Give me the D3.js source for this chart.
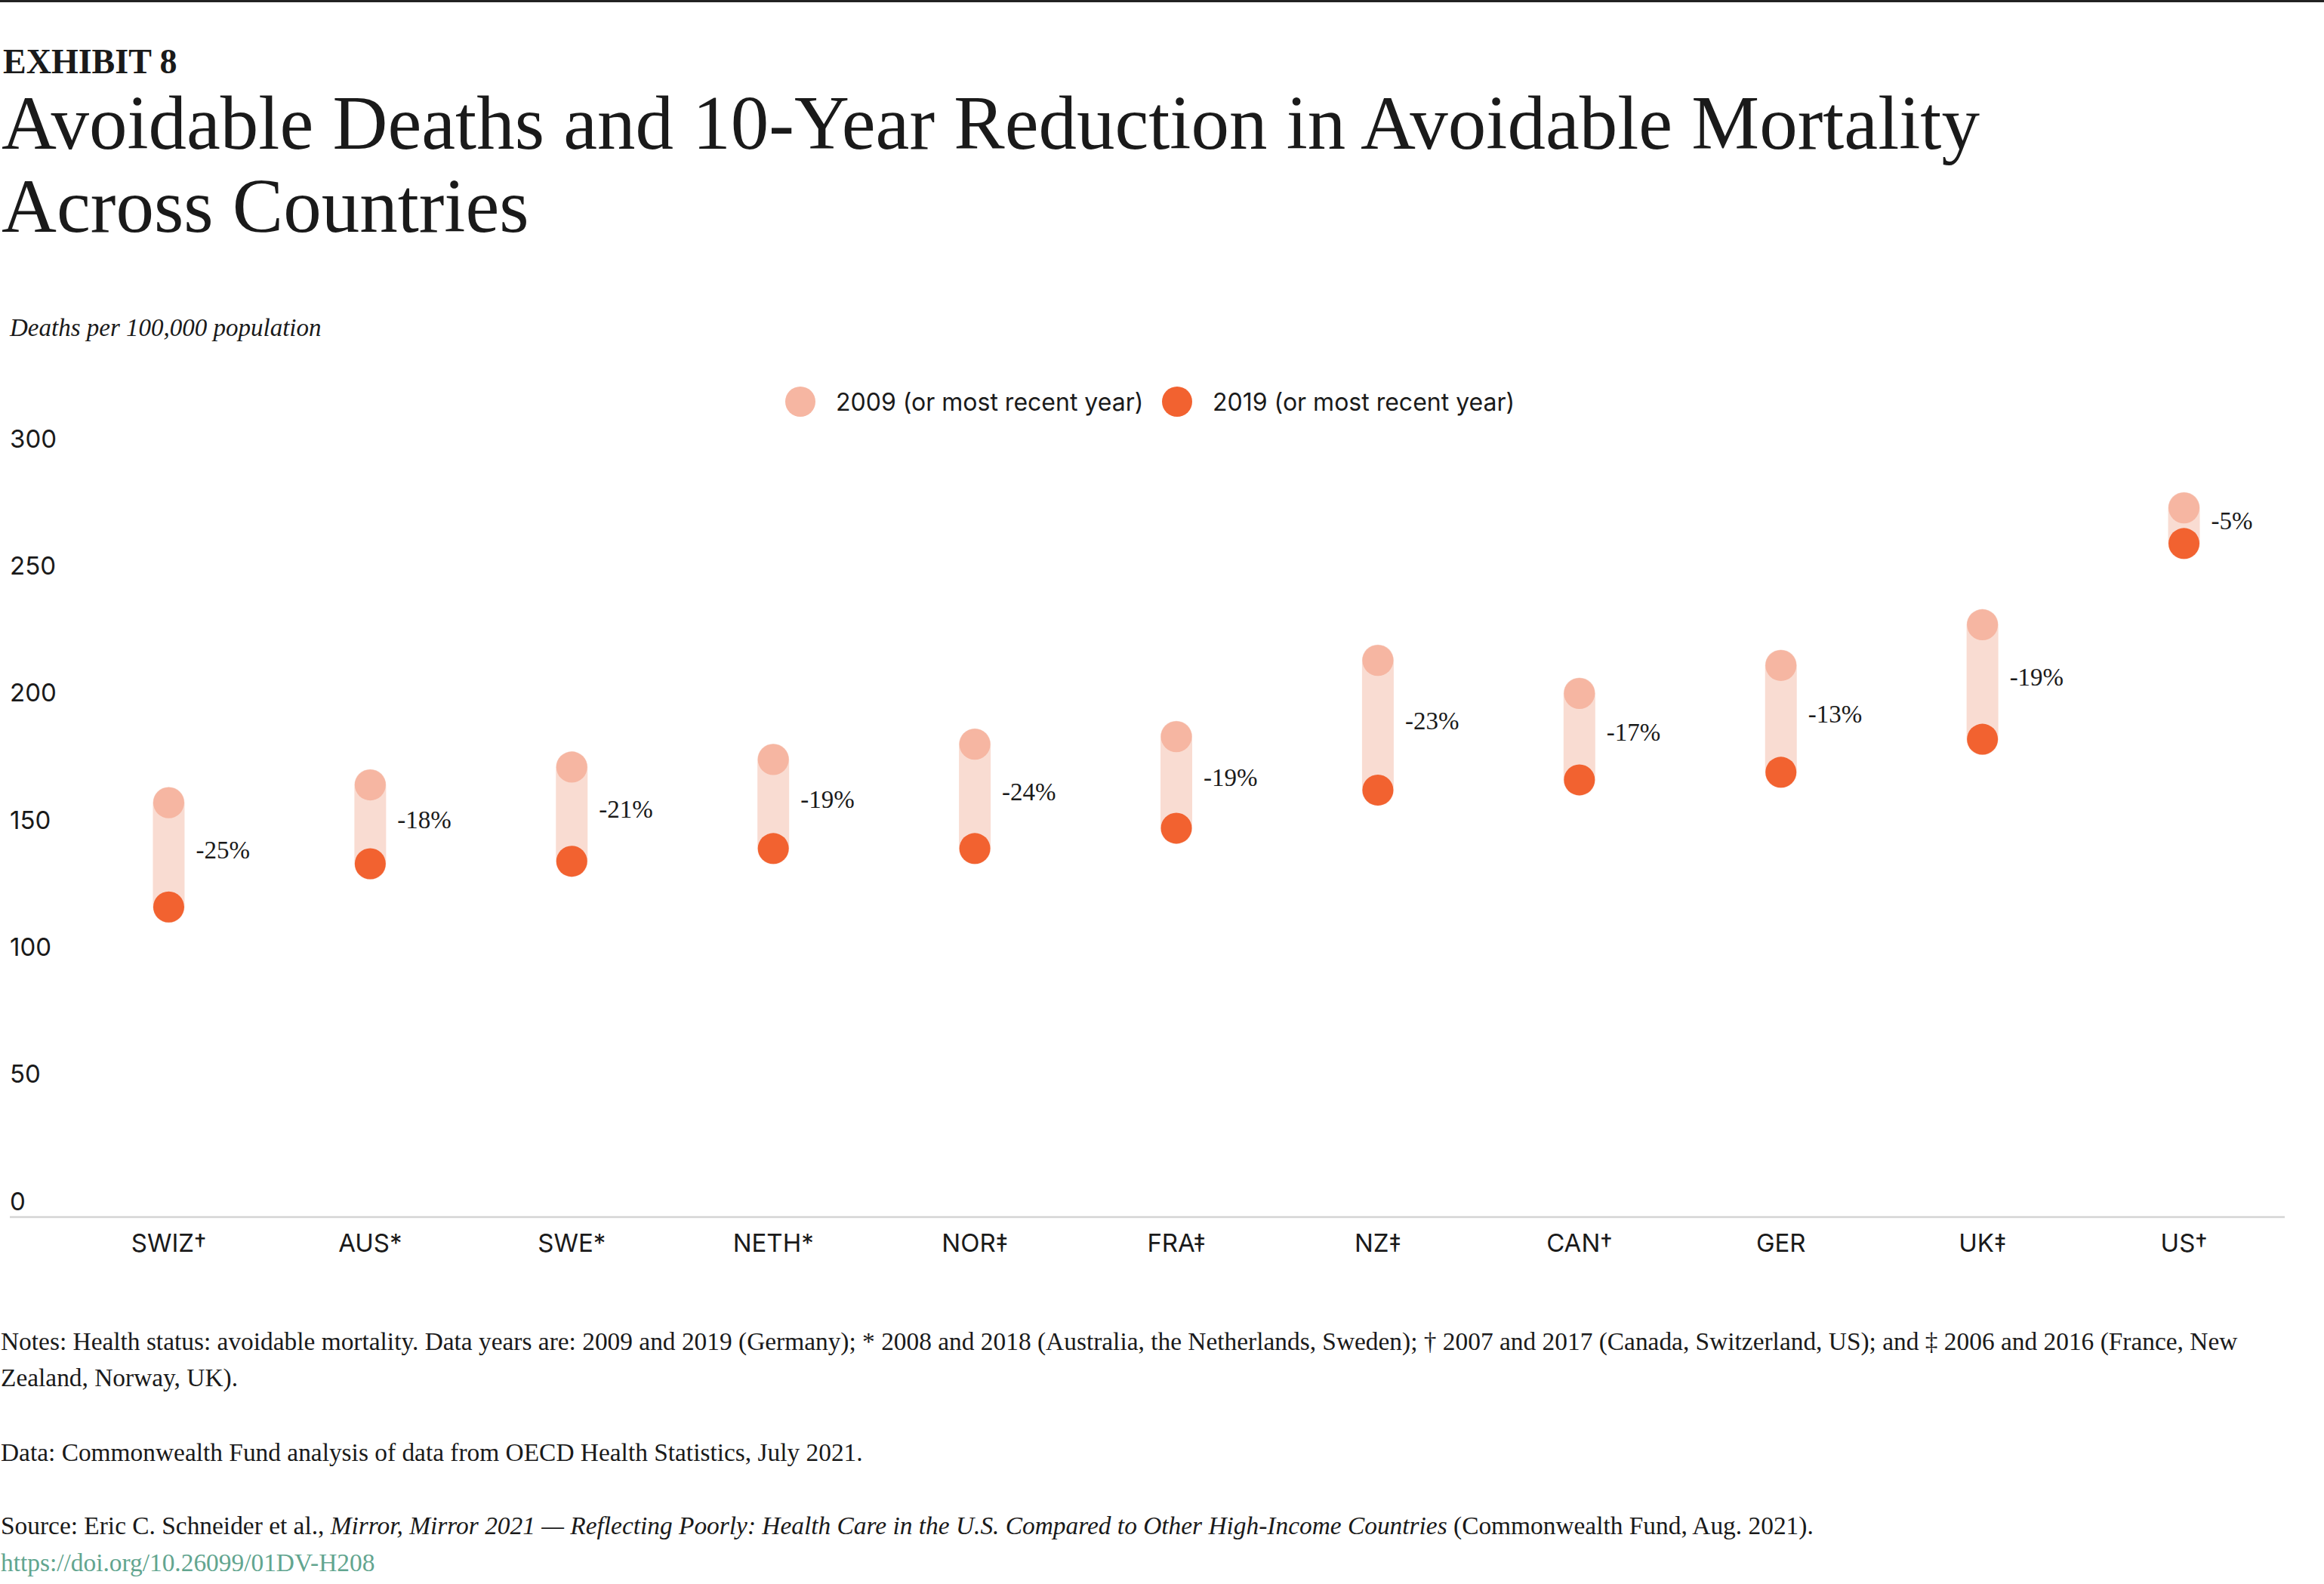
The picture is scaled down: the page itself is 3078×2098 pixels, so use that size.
<!DOCTYPE html>
<html>
<head>
<meta charset="utf-8">
<script src="https://cdn.jsdelivr.net/npm/d3@7"></script>
<style>
  html, body { margin: 0; padding: 0; background: #ffffff; }
  svg { display: block; }
</style>
</head>
<body>
<svg id="chart" width="3078" height="2098"></svg>
<script>
// ---------- data ----------
const categories = ["SWIZ†", "AUS*", "SWE*", "NETH*", "NOR‡", "FRA‡", "NZ‡", "CAN†", "GER", "UK‡", "US†"];
const values2009 = [163, 170, 177, 180, 186, 189, 219, 206, 217, 233, 279];
const values2019 = [122, 139, 140, 145, 145, 153, 168, 172, 175, 188, 265];
const changeLabels = ["-25%", "-18%", "-21%", "-19%", "-24%", "-19%", "-23%", "-17%", "-13%", "-19%", "-5%"];
const yTicks = [0, 50, 100, 150, 200, 250, 300];
const seriesNames = ["2009 (or most recent year)", "2019 (or most recent year)"];

const exhibitLabel = "EXHIBIT 8";
const titleLines = ["Avoidable Deaths and 10-Year Reduction in Avoidable Mortality", "Across Countries"];
const yAxisTitle = "Deaths per 100,000 population";
const notesLines = [
  "Notes: Health status: avoidable mortality. Data years are: 2009 and 2019 (Germany); * 2008 and 2018 (Australia, the Netherlands, Sweden); † 2007 and 2017 (Canada, Switzerland, US); and ‡ 2006 and 2016 (France, New",
  "Zealand, Norway, UK)."
];
const dataLine = "Data: Commonwealth Fund analysis of data from OECD Health Statistics, July 2021.";
const sourceParts = [
  { t: "Source: Eric C. Schneider et al., ", italic: false },
  { t: "Mirror, Mirror 2021 — Reflecting Poorly: Health Care in the U.S. Compared to Other High-Income Countries", italic: true },
  { t: " (Commonwealth Fund, Aug. 2021).", italic: false }
];
const urlText = "https://doi.org/10.26099/01DV-H208";

// ---------- styles ----------
const SERIF = "'Liberation Serif', 'Times New Roman', serif";
const SANS = "Inter, 'Noto Sans', sans-serif";
const TEXT = "#1a1a1a";
const C2009 = "#f6b6a2";
const C2019 = "#f26230";
const CBAR = "#f9dcd2";
const NOTE_SIZE = 33.4;

const svg = d3.select("#chart");

// top rule
svg.append("rect").attr("x", 0).attr("y", 0).attr("width", 3078).attr("height", 3).attr("fill", "#222");

// header
svg.append("text").attr("x", 4).attr("y", 97)
  .attr("font-family", SERIF).attr("font-weight", "bold").attr("font-size", 46)
  .attr("fill", TEXT).text(exhibitLabel);

svg.selectAll("text.title").data(titleLines).join("text")
  .attr("class", "title")
  .attr("x", 2).attr("y", (d, i) => 197 + i * 110)
  .attr("font-family", SERIF).attr("font-size", 101)
  .attr("fill", TEXT).text(d => d);

svg.append("text").attr("x", 13).attr("y", 445)
  .attr("font-family", SERIF).attr("font-style", "italic").attr("font-size", 33)
  .attr("fill", TEXT).text(yAxisTitle);

// ---------- scales ----------
const x = d3.scaleBand().domain(categories).range([90, 3026]);
const y = d3.scaleLinear().domain([0, 300]).range([1612, 602]);
const cx = d => x(d) + x.bandwidth() / 2;

// y-axis labels (above their value line)
const yAxis = d3.axisLeft(y).tickValues(yTicks).tickSize(0).tickPadding(0);
const gy = svg.append("g").attr("transform", "translate(13,0)").call(yAxis);
gy.select(".domain").remove();
gy.selectAll(".tick text")
  .attr("text-anchor", "start").attr("x", 0).attr("dy", -10)
  .attr("font-family", SANS).attr("font-size", 33).attr("fill", TEXT);

// baseline
svg.append("line").attr("x1", 13).attr("x2", 3026).attr("y1", y(0)).attr("y2", y(0))
  .attr("stroke", "#d4d4d4").attr("stroke-width", 2.5);

// x-axis labels
const xAxis = d3.axisBottom(x).tickSize(0).tickPadding(0);
const gx = svg.append("g").attr("transform", `translate(0,${y(0)})`).call(xAxis);
gx.select(".domain").remove();
gx.selectAll(".tick text")
  .attr("y", 46).attr("dy", 0)
  .attr("font-family", SANS).attr("font-size", 33).attr("fill", TEXT);

// ---------- marks ----------
const rows = categories.map((c, i) => ({ c, a: values2009[i], b: values2019[i], lab: changeLabels[i] }));

svg.append("g").selectAll("line").data(rows).join("line")
  .attr("x1", d => cx(d.c)).attr("x2", d => cx(d.c))
  .attr("y1", d => y(d.a)).attr("y2", d => y(d.b))
  .attr("stroke", CBAR).attr("stroke-width", 42).attr("stroke-linecap", "round");

svg.append("g").selectAll("circle").data(rows).join("circle")
  .attr("cx", d => cx(d.c)).attr("cy", d => y(d.a)).attr("r", 20.5).attr("fill", C2009);

svg.append("g").selectAll("circle").data(rows).join("circle")
  .attr("cx", d => cx(d.c)).attr("cy", d => y(d.b)).attr("r", 20.5).attr("fill", C2019);

svg.append("g").selectAll("text").data(rows).join("text")
  .attr("x", d => cx(d.c) + 36).attr("y", d => (y(d.a) + y(d.b)) / 2 - 6)
  .attr("dominant-baseline", "central")
  .attr("font-family", SERIF).attr("font-size", 33).attr("fill", TEXT)
  .text(d => d.lab);

// ---------- legend ----------
const legendColors = [C2009, C2019];
const legendX = [1060, 1559];
const lg = svg.append("g").selectAll("g").data(seriesNames).join("g")
  .attr("transform", (d, i) => `translate(${legendX[i]},532)`);
lg.append("circle").attr("r", 20).attr("fill", (d, i) => legendColors[i]);
lg.append("text").attr("x", 47).attr("dominant-baseline", "central")
  .attr("font-family", SANS).attr("font-size", 32).attr("fill", TEXT).text(d => d);

// ---------- notes ----------
svg.selectAll("text.note").data(notesLines).join("text")
  .attr("class", "note").attr("x", 1).attr("y", (d, i) => 1788 + i * 48)
  .attr("font-family", SERIF).attr("font-size", NOTE_SIZE).attr("fill", TEXT).text(d => d);

svg.append("text").attr("x", 1).attr("y", 1935)
  .attr("font-family", SERIF).attr("font-size", NOTE_SIZE).attr("fill", TEXT).text(dataLine);

const src = svg.append("text").attr("x", 1).attr("y", 2032)
  .attr("font-family", SERIF).attr("font-size", NOTE_SIZE).attr("fill", TEXT);
src.selectAll("tspan").data(sourceParts).join("tspan")
  .attr("font-style", d => d.italic ? "italic" : "normal")
  .text(d => d.t);

svg.append("text").attr("x", 1).attr("y", 2081)
  .attr("font-family", SERIF).attr("font-size", NOTE_SIZE).attr("fill", "#62a58f").text(urlText);
</script>
</body>
</html>
